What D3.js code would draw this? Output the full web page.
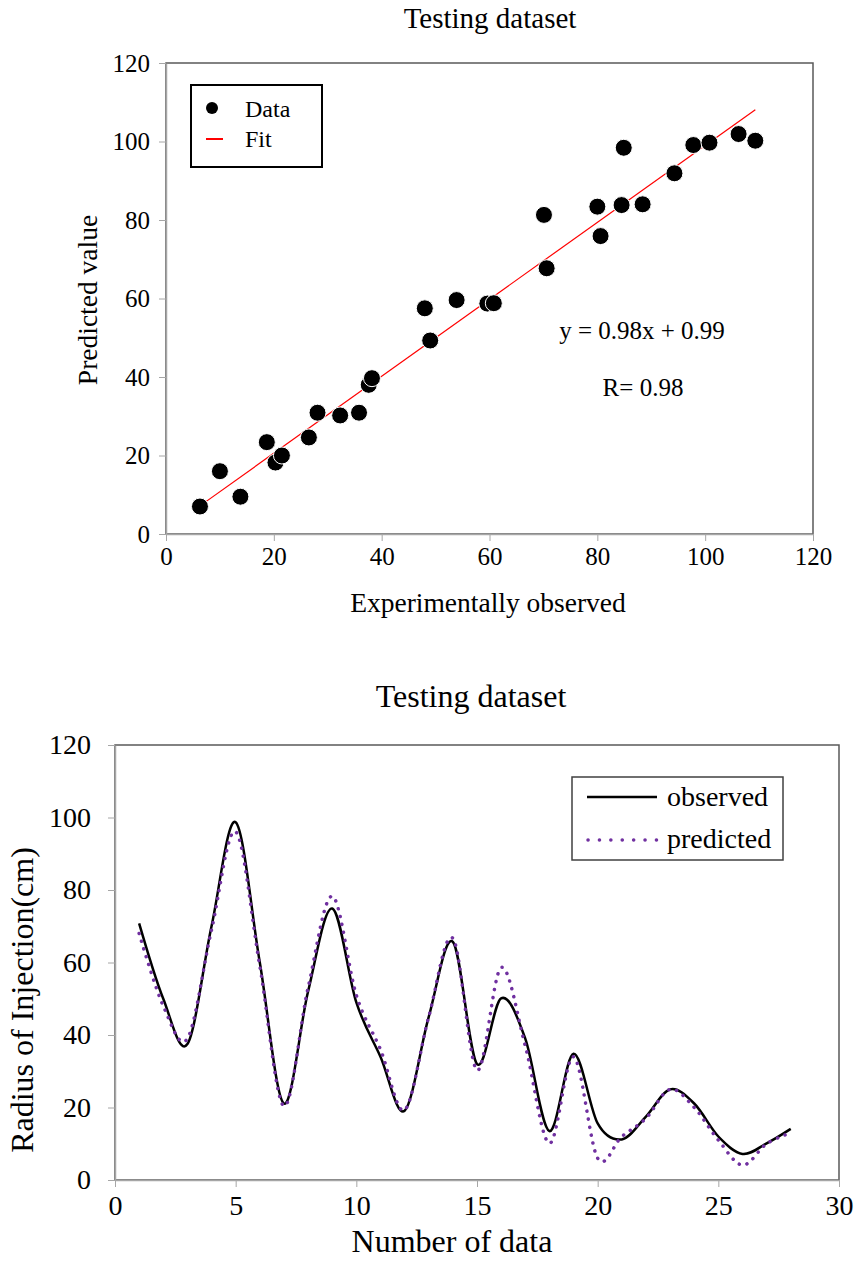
<!DOCTYPE html>
<html>
<head>
<meta charset="utf-8">
<script src="https://cdn.jsdelivr.net/npm/d3@7"></script>
<style>
  body { margin: 0; background: #fff; }
  svg { display: block; }
  text { font-family: "Liberation Serif", "Times New Roman", serif; fill: #000; }
  .axis path, .axis line { stroke: #a6a6a6; }
</style>
</head>
<body>
<div id="chart"></div>
<script>
// scatter: experimentally observed vs predicted
var observedX = [6.3, 10.0, 13.8, 18.7, 20.3, 21.5, 26.5, 28.1, 32.3, 35.8, 37.6, 38.2, 48.0, 49.0, 53.9, 59.6, 60.8,
  70.6, 70.1, 80.6, 80.0, 84.5, 84.9, 88.4, 94.3, 97.8, 100.8, 106.2, 109.3];
var predictedY = [7.0, 16.0, 9.5, 23.4, 18.2, 20.0, 24.6, 30.9, 30.2, 30.9, 38.0, 39.7, 57.5, 49.3, 59.6, 58.7, 58.8,
  67.7, 81.3, 75.9, 83.4, 83.8, 98.4, 84.0, 91.9, 99.1, 99.7, 101.9, 100.2];
var fitSlope = 0.98, fitIntercept = 0.99;

// line chart: number of data vs radius of injection
var dataIndex = d3.range(1, 29);
var observedSeries = [70.8, 50, 37.5, 70, 98.7, 60, 21.1, 52, 74.9, 49, 34, 19.1, 45, 65.7,
  32, 50.1, 39, 13.5, 34.8, 15.6, 11.2, 17.5, 25.0, 21.1, 12, 7.2, 10.1, 14.1];
var predictedSeries = [68, 48, 39, 69, 96.1, 59, 20.4, 53, 78.3, 51, 36, 19.3, 45, 66.7,
  30.3, 58.6, 37, 10.1, 34.0, 6.0, 12, 17, 25, 20, 11, 4.1, 10, 13];

var yTicks = [0, 20, 40, 60, 80, 100, 120];
var xTicksTop = [0, 20, 40, 60, 80, 100, 120];
var xTicksBottom = [0, 5, 10, 15, 20, 25, 30];

var svgWidth = 856;
var svgHeight = 1262;

var svg = d3.select("#chart")
  .append("svg")
  .attr("width", svgWidth)
  .attr("height", svgHeight);

// ---------- top chart ----------
var top1 = {left: 166, right: 813, top: 63, bottom: 534};

var xTop = d3.scaleLinear().domain([0, 120]).range([top1.left, top1.right]);
var yTop = d3.scaleLinear().domain([0, 120]).range([top1.bottom, top1.top]);

svg.append("rect")
  .attr("x", top1.left).attr("y", top1.top)
  .attr("width", top1.right - top1.left).attr("height", top1.bottom - top1.top)
  .attr("fill", "none").attr("stroke", "#595959").attr("stroke-width", 1.5);

svg.append("g").attr("class", "axis")
  .attr("transform", `translate(0, ${top1.bottom})`)
  .call(d3.axisBottom(xTop).tickValues(xTicksTop).tickSize(7).tickSizeOuter(0).tickPadding(6))
  .selectAll("text").attr("font-size", "25px").attr("font-family", "Liberation Serif").attr("fill", "#000");

svg.append("g").attr("class", "axis")
  .attr("transform", `translate(${top1.left}, 0)`)
  .call(d3.axisLeft(yTop).tickValues(yTicks).tickSize(7).tickSizeOuter(0).tickPadding(9))
  .selectAll("text").attr("font-size", "25px").attr("font-family", "Liberation Serif").attr("fill", "#000");

svg.selectAll(".axis path").attr("stroke-width", 1.5);

// fit line
var fitX = d3.extent(observedX);
svg.append("line")
  .attr("x1", xTop(fitX[0])).attr("y1", yTop(fitSlope * fitX[0] + fitIntercept))
  .attr("x2", xTop(fitX[1])).attr("y2", yTop(fitSlope * fitX[1] + fitIntercept))
  .attr("stroke", "#ff0000").attr("stroke-width", 1.2);

svg.append("g").selectAll("circle")
  .data(observedX)
  .enter()
  .append("circle")
  .attr("cx", d => xTop(d))
  .attr("cy", (d, i) => yTop(predictedY[i]))
  .attr("r", 8.5)
  .attr("fill", "#000")
  .attr("stroke", "#fff")
  .attr("stroke-width", 1);

// legend
svg.append("rect")
  .attr("x", 191).attr("y", 85).attr("width", 131).attr("height", 82)
  .attr("fill", "#fff").attr("stroke", "#000").attr("stroke-width", 2);
svg.append("circle").attr("cx", 212).attr("cy", 108).attr("r", 6).attr("fill", "#000");
svg.append("line").attr("x1", 206).attr("x2", 223).attr("y1", 139).attr("y2", 139)
  .attr("stroke", "#ff0000").attr("stroke-width", 2);
svg.append("text").attr("x", 245).attr("y", 117).attr("font-size", "24px").text("Data");
svg.append("text").attr("x", 245).attr("y", 147).attr("font-size", "24px").text("Fit");

svg.append("text").attr("x", 642).attr("y", 339).attr("text-anchor", "middle")
  .attr("font-size", "25px").text("y = 0.98x + 0.99");
svg.append("text").attr("x", 643).attr("y", 396).attr("text-anchor", "middle")
  .attr("font-size", "25px").text("R= 0.98");

svg.append("text").attr("x", 490).attr("y", 28).attr("text-anchor", "middle")
  .attr("font-size", "29px").text("Testing dataset");
svg.append("text").attr("x", 488).attr("y", 612).attr("text-anchor", "middle")
  .attr("font-size", "27.5px").text("Experimentally observed");
svg.append("text").attr("transform", "translate(97, 300) rotate(-90)").attr("text-anchor", "middle")
  .attr("font-size", "27.5px").text("Predicted value");

// ---------- bottom chart ----------
var bot = {left: 115, right: 839, top: 745, bottom: 1180};

var xBot = d3.scaleLinear().domain([0, 30]).range([bot.left, bot.right]);
var yBot = d3.scaleLinear().domain([0, 120]).range([bot.bottom, bot.top]);

svg.append("rect")
  .attr("x", bot.left).attr("y", bot.top)
  .attr("width", bot.right - bot.left).attr("height", bot.bottom - bot.top)
  .attr("fill", "none").attr("stroke", "#595959").attr("stroke-width", 1.5);

svg.append("g").attr("class", "axis axis-b")
  .attr("transform", `translate(0, ${bot.bottom})`)
  .call(d3.axisBottom(xBot).tickValues(xTicksBottom).tickSize(7).tickSizeOuter(0).tickPadding(8))
  .selectAll("text").attr("font-size", "28px").attr("font-family", "Liberation Serif").attr("fill", "#000");

svg.append("g").attr("class", "axis axis-b")
  .attr("transform", `translate(${bot.left}, 0)`)
  .call(d3.axisLeft(yBot).tickValues(yTicks).tickSize(7).tickSizeOuter(0).tickPadding(17))
  .selectAll("text").attr("font-size", "28px").attr("font-family", "Liberation Serif").attr("fill", "#000");

svg.selectAll(".axis path").attr("stroke-width", 1.5);

var line = d3.line()
  .x((d, i) => xBot(dataIndex[i]))
  .y(d => yBot(d))
  .curve(d3.curveCatmullRom.alpha(0));

svg.append("path")
  .datum(observedSeries)
  .attr("d", line)
  .attr("fill", "none").attr("stroke", "#000").attr("stroke-width", 2.5);

svg.append("path")
  .datum(predictedSeries)
  .attr("d", line)
  .attr("fill", "none").attr("stroke", "#7030a0").attr("stroke-width", 3.5)
  .attr("stroke-linecap", "round").attr("stroke-dasharray", "0.1 8");

// legend
svg.append("rect")
  .attr("x", 572).attr("y", 777).attr("width", 211).attr("height", 83)
  .attr("fill", "#fff").attr("stroke", "#404040").attr("stroke-width", 1.5);
svg.append("line").attr("x1", 587).attr("x2", 657).attr("y1", 797).attr("y2", 797)
  .attr("stroke", "#000").attr("stroke-width", 2.5);
svg.append("line").attr("x1", 588).attr("x2", 657).attr("y1", 840).attr("y2", 840)
  .attr("stroke", "#7030a0").attr("stroke-width", 3.5)
  .attr("stroke-linecap", "round").attr("stroke-dasharray", "0.1 11.3");
svg.append("text").attr("x", 667).attr("y", 806).attr("font-size", "28px").text("observed");
svg.append("text").attr("x", 667).attr("y", 848).attr("font-size", "28px").text("predicted");

svg.append("text").attr("x", 471).attr("y", 707).attr("text-anchor", "middle")
  .attr("font-size", "32px").text("Testing dataset");
svg.append("text").attr("x", 452).attr("y", 1252).attr("text-anchor", "middle")
  .attr("font-size", "32px").text("Number of data");
svg.append("text").attr("transform", "translate(33, 1000) rotate(-90)").attr("text-anchor", "middle")
  .attr("font-size", "32px").text("Radius of Injection(cm)");
</script>
</body>
</html>
